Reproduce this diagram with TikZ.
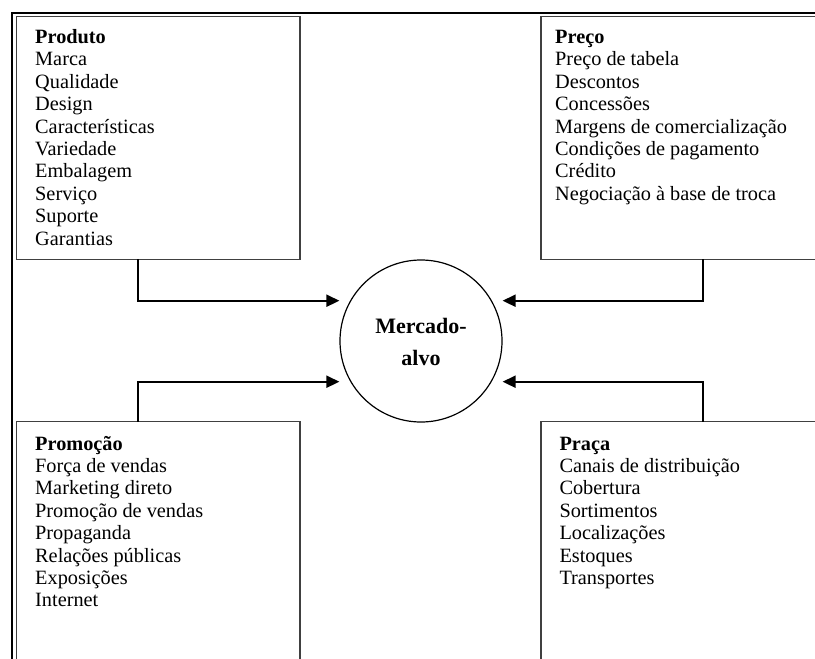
\documentclass[tikz,border=0pt]{standalone}
\usepackage{fontspec}
\setmainfont{Liberation Serif}
\usetikzlibrary{arrows.meta}
\begin{document}
\begin{tikzpicture}[x=1pt,y=-1pt,
  box/.style={draw=black!75, line width=1.2pt, inner sep=0pt, outer sep=0pt, anchor=north west},
  lst/.style={anchor=north west, inner sep=0pt, align=left, font=\fontsize{20.3}{22.4}\selectfont},
  conn/.style={line width=2pt, -{Triangle[length=13pt,width=12pt]}},
  frameline/.style={line width=2.2pt, line join=miter}]
\clip (0,0) rectangle (815,659);
\fill[white] (0,0) rectangle (815,659);
% outer frame
\draw[frameline] (815,13) -- (12,13) -- (12,660);
% boxes
\node[box, minimum width=283.3pt, minimum height=242.6pt] (prod) at (16.7,16.7) {};
\node[box, minimum width=300pt, minimum height=242.6pt] (preco) at (541,16.7) {};
\node[box, minimum width=283.3pt, minimum height=260pt] (promo) at (16.7,421.7) {};
\node[box, minimum width=300pt, minimum height=260pt] (praca) at (541,421.7) {};
% circle
\node[draw, circle, line width=1.2pt, minimum size=162pt, inner sep=0pt] (mk) at (421,341) {};
\node[anchor=north, inner sep=0pt, align=center, font=\fontsize{22}{32}\selectfont\bfseries] (mkt) at (421,310.9) {\strut Mercado-\\alvo};
% lists
\node[lst] (tprod) at (35,27.6) {\strut\textbf{Produto}\\Marca\\Qualidade\\Design\\Características\\Variedade\\Embalagem\\Serviço\\Suporte\\Garantias};
\node[lst] (tpreco) at (555,27.6) {\strut\textbf{Preço}\\Preço de tabela\\Descontos\\Concessões\\Margens de comercialização\\Condições de pagamento\\Crédito\\Negociação à base de troca};
\node[lst] (tpromo) at (35,434.3) {\strut\textbf{Promoção}\\Força de vendas\\Marketing direto\\Promoção de vendas\\Propaganda\\Relações públicas\\Exposições\\Internet};
\node[lst] (tpraca) at (559.3,434.3) {\strut\textbf{Praça}\\Canais de distribuição\\Cobertura\\Sortimentos\\Localizações\\Estoques\\Transportes};
% connectors
\coordinate (ya) at (0,300.7);
\coordinate (yb) at (0,381.7);
\draw[conn] ([xshift=121pt]prod.south west) |- (mk.west |- ya);
\draw[conn] ([xshift=161.7pt]preco.south west) |- (mk.east |- ya);
\draw[conn] ([xshift=121pt]promo.north west) |- (mk.west |- yb);
\draw[conn] ([xshift=161.7pt]praca.north west) |- (mk.east |- yb);
\end{tikzpicture}
\end{document}
